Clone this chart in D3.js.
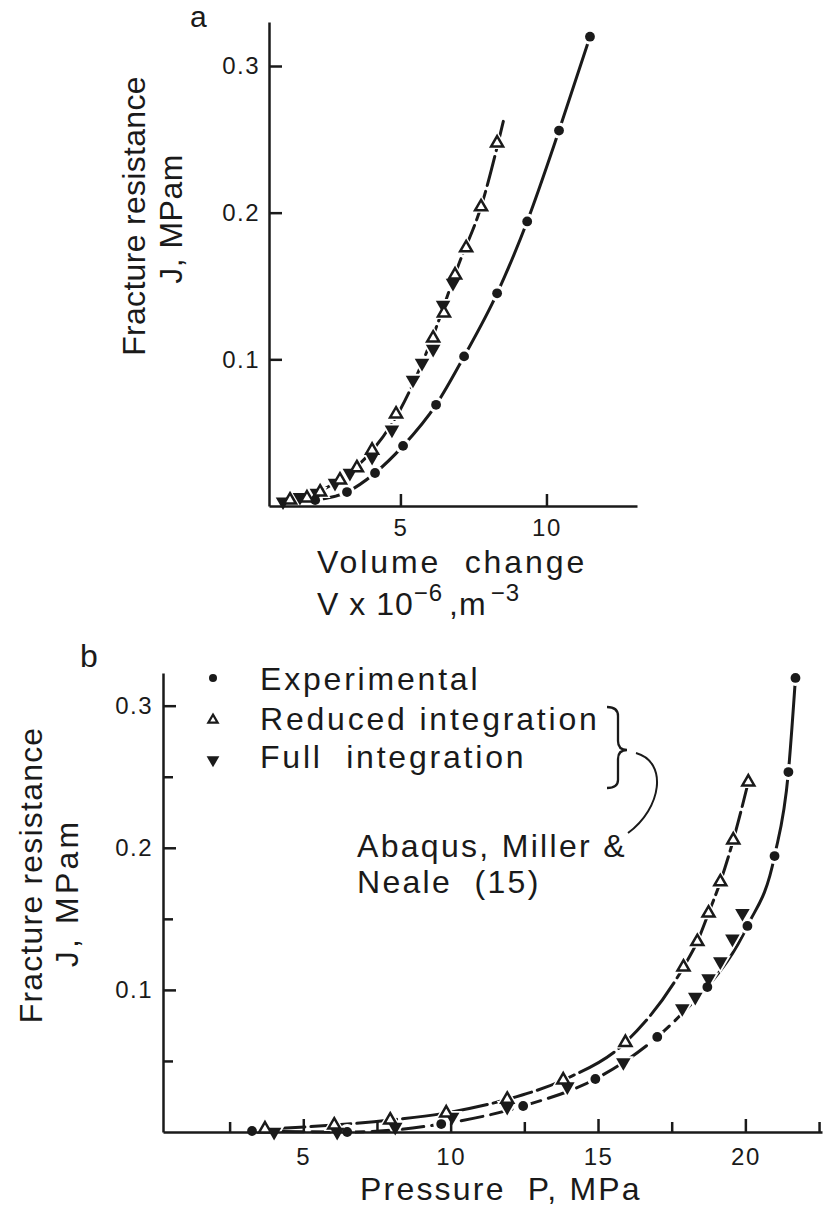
<!DOCTYPE html>
<html lang="en">
<head>
<meta charset="UTF-8">
<title>Fracture resistance J</title>
<script src="https://d3js.org/d3.v7.min.js"></script>
<style>
  body { margin: 0; background: #fff; }
  svg text { font-family: "Liberation Sans", Arial, sans-serif; fill: #1a1a1a; }
</style>
</head>
<body>
<script>
// ---- panel a: J against volume change V (x 10^-6 m^3)
const expV   = [2.08, 3.17, 4.13, 5.09, 6.22, 7.18, 8.31, 9.34, 10.43, 11.49];
const expJa  = [0.004, 0.0095, 0.0225, 0.041, 0.069, 0.102, 0.145, 0.194, 0.256, 0.320];
const redV   = [1.22, 1.80, 2.25, 2.93, 3.51, 4.03, 4.85, 6.12, 6.49, 6.87, 7.25, 7.76, 8.31];
const redJa  = [0.004, 0.0055, 0.0095, 0.0177, 0.026, 0.038, 0.0627, 0.1145, 0.1316, 0.1575, 0.176, 0.204, 0.2475];
const fullV  = [0.98, 1.56, 2.14, 2.76, 3.27, 4.03, 4.71, 5.43, 5.74, 6.12, 6.46, 6.80];
const fullJa = [0.003, 0.006, 0.0089, 0.0157, 0.0225, 0.0334, 0.052, 0.086, 0.0975, 0.107, 0.137, 0.152];
// hand-drawn curve through both simulations in panel a
const fitV   = [0.98, 2.0, 3.0, 4.0, 5.0, 6.0, 7.0, 7.76, 8.55];
const fitJa  = [0.002, 0.008, 0.019, 0.037, 0.066, 0.11, 0.165, 0.204, 0.2645];

// ---- panel b: J against pressure P (MPa)
const expP   = [3.26, 6.49, 9.68, 12.46, 14.91, 17.01, 18.71, 20.07, 20.99, 21.46, 21.70];
const expJb  = [0.0007, 0.0, 0.0056, 0.0183, 0.0373, 0.0669, 0.102, 0.145, 0.1942, 0.2533, 0.3195];
const redP   = [3.70, 6.05, 7.95, 9.85, 11.92, 13.82, 15.93, 17.90, 18.37, 18.75, 19.15, 19.59, 20.10];
const redJb  = [0.0021, 0.0049, 0.0084, 0.0134, 0.023, 0.0366, 0.063, 0.116, 0.134, 0.154, 0.176, 0.2055, 0.2463];
const fullP  = [4.01, 6.15, 8.12, 10.05, 11.92, 13.96, 15.86, 17.86, 18.30, 18.75, 19.15, 19.56, 19.90];
const fullJb = [0.0, 0.0, 0.0035, 0.0106, 0.0176, 0.032, 0.049, 0.087, 0.095, 0.108, 0.12, 0.136, 0.154];
const solidFrom = 18.7; // experimental curve in b is solid above this pressure

// ---- ticks
const yTicksA = [0.1, 0.2, 0.3];
const xTicksA = [5, 10];
const yTicksB = [0.05, 0.1, 0.15, 0.2, 0.25, 0.3];
const yLabelsB = [0.1, 0.2, 0.3];
const xTicksB = [2.5, 5, 7.5, 10, 12.5, 15, 17.5, 20, 22.5];
const xLabelsB = [5, 10, 15, 20];

const legendItems = ["Experimental", "Reduced integration", "Full  integration"];

const ink = "#1a1a1a";
const svg = d3.select("body").append("svg").attr("width", 826).attr("height", 1214);

const xa = d3.scaleLinear().domain([0.5, 13.1]).range([269, 637]);
const ya = d3.scaleLinear().domain([0, 0.33]).range([506, 22]);
const xb = d3.scaleLinear().domain([0.24, 22.6]).range([163, 822]);
const yb = d3.scaleLinear().domain([0, 0.323]).range([1132, 673]);

const zip = (xs, ys) => xs.map((v, i) => [v, ys[i]]);

function curve(x, y, data, dash) {
  const line = d3.line().x(d => x(d[0])).y(d => y(d[1])).curve(d3.curveMonotoneX);
  svg.append("path").attr("d", line(data))
    .attr("fill", "none").attr("stroke", ink).attr("stroke-width", 3)
    .attr("stroke-linecap", "round")
    .attr("stroke-dasharray", dash || null);
}

const upTri = d3.symbol(d3.symbolTriangle, 62)();
const downTri = d3.symbol(d3.symbolTriangle, 92)();
const haloTri = d3.symbol(d3.symbolTriangle, 190)();

function halos(x, y, data, kind) {
  svg.append("g").selectAll("path").data(data).join("path")
    .attr("d", kind === "dot" ? d3.symbol(d3.symbolCircle, 200)() : haloTri)
    .attr("transform", d => `translate(${x(d[0])},${y(d[1])})${kind === "down" ? " rotate(180)" : ""}`)
    .attr("fill", "#fff");
}

function markers(x, y, data, kind) {
  const g = svg.append("g");
  if (kind === "dot") {
    g.selectAll("circle").data(data).join("circle")
      .attr("cx", d => x(d[0])).attr("cy", d => y(d[1])).attr("r", 4.9).attr("fill", ink);
  } else if (kind === "up") {
    g.selectAll("path").data(data).join("path")
      .attr("d", upTri)
      .attr("transform", d => `translate(${x(d[0])},${y(d[1])})`)
      .attr("fill", "#fff").attr("stroke", ink).attr("stroke-width", 2.5);
  } else {
    g.selectAll("path").data(data).join("path")
      .attr("d", downTri)
      .attr("transform", d => `translate(${x(d[0])},${y(d[1])}) rotate(180)`)
      .attr("fill", ink);
  }
}

function styleAxis(g, size) {
  g.attr("font-family", null).attr("font-size", null);
  g.selectAll("path, line").attr("stroke", ink).attr("stroke-width", 2.5);
  g.selectAll("text").style("font-size", size + "px").style("letter-spacing", "1.5px").attr("fill", ink);
}

// ================= panel a
const dataExpA = zip(expV, expJa), dataRedA = zip(redV, redJa), dataFullA = zip(fullV, fullJa);
curve(xa, ya, dataExpA);
curve(xa, ya, zip(fitV, fitJa), "30,6");
halos(xa, ya, dataExpA, "dot");
halos(xa, ya, dataRedA, "up");
halos(xa, ya, dataFullA, "down");

svg.append("g").attr("transform", "translate(269,0)")
  .call(d3.axisLeft(ya).tickValues(yTicksA).tickFormat(d3.format(".1f"))
    .tickSizeInner(-13).tickSizeOuter(0).tickPadding(9))
  .call(g => styleAxis(g, 24));
svg.append("g").attr("transform", "translate(0,506)")
  .call(d3.axisBottom(xa).tickValues(xTicksA).tickFormat(d3.format("d"))
    .tickSizeInner(-12).tickSizeOuter(0).tickPadding(13))
  .call(g => styleAxis(g, 24));

markers(xa, ya, dataExpA, "dot");
markers(xa, ya, dataFullA, "down");
markers(xa, ya, dataRedA, "up");

svg.append("text").attr("x", 190).attr("y", 27).style("font-size", "30px").text("a");

function yTitle(bx, cy, bx2, cy2, ls1, ls2) {
  svg.append("text").attr("transform", `translate(${bx},${cy}) rotate(-90)`)
    .attr("text-anchor", "middle").style("font-size", "32px").style("letter-spacing", ls1 + "px")
    .text("Fracture resistance");
  svg.append("text").attr("transform", `translate(${bx2},${cy2}) rotate(-90)`)
    .attr("text-anchor", "middle").style("font-size", "32px").style("letter-spacing", ls2 + "px")
    .text("J,  MPam");
}
yTitle(145, 216, 182, 219, 0.3, 0.5);

svg.append("text").attr("x", 317).attr("y", 573).style("font-size", "32px")
  .style("letter-spacing", "2.9px").style("white-space", "pre").text("Volume  change");

const vl = svg.append("text").attr("x", 317).attr("y", 615).style("font-size", "32px")
  .style("letter-spacing", "1px").style("white-space", "pre");
vl.append("tspan").text("V x 10");
vl.append("tspan").attr("dy", -14).style("font-size", "24px").text("−6");
vl.append("tspan").attr("dy", 14).attr("dx", 6).text(",m");
vl.append("tspan").attr("dy", -14).attr("dx", 4).style("font-size", "24px").text("−3");

// ================= panel b
const dataExpB = zip(expP, expJb), dataRedB = zip(redP, redJb), dataFullB = zip(fullP, fullJb);
curve(xb, yb, dataExpB.filter(d => d[0] >= solidFrom));
curve(xb, yb, dataExpB.filter(d => d[0] <= solidFrom + 0.01), "22,8");
curve(xb, yb, dataRedB, "40,6");
halos(xb, yb, dataExpB, "dot");
halos(xb, yb, dataRedB, "up");
halos(xb, yb, dataFullB, "down");

svg.append("g").attr("transform", "translate(163,0)")
  .call(d3.axisLeft(yb).tickValues(yTicksB)
    .tickFormat(d => yLabelsB.includes(d) ? d3.format(".1f")(d) : "")
    .tickSizeInner(-13).tickSizeOuter(0).tickPadding(10))
  .call(g => styleAxis(g, 24))
  .call(g => g.selectAll(".tick line").attr("x2", d => yLabelsB.includes(d) ? 13 : 10));
svg.append("g").attr("transform", "translate(0,1132)")
  .call(d3.axisBottom(xb).tickValues(xTicksB)
    .tickFormat(d => xLabelsB.includes(d) ? d3.format("d")(d) : "")
    .tickSizeInner(-13).tickSizeOuter(0).tickPadding(16))
  .call(g => styleAxis(g, 24))
  .call(g => g.selectAll(".tick line").attr("y2", d => xLabelsB.includes(d) ? -13 : -10));

markers(xb, yb, dataExpB, "dot");
markers(xb, yb, dataFullB, "down");
markers(xb, yb, dataRedB, "up");

svg.append("text").attr("x", 80).attr("y", 667).style("font-size", "32px").text("b");
yTitle(42, 875, 78, 893, 1.2, 3.2);

svg.append("text").attr("x", 360).attr("y", 1200).style("font-size", "32px")
  .style("letter-spacing", "2.2px").style("white-space", "pre").text("Pressure  P, MPa");

// legend
const legend = svg.append("g");
const legY = [690, 730, 768];
legendItems.forEach((t, i) => {
  legend.append("text").attr("x", 260).attr("y", legY[i]).style("font-size", "32px")
    .style("letter-spacing", "2.8px").style("white-space", "pre").text(t);
});
legend.append("circle").attr("cx", 213).attr("cy", 678).attr("r", 4).attr("fill", ink);
legend.append("path").attr("d", d3.symbol(d3.symbolTriangle, 38)())
  .attr("transform", "translate(213,720)").attr("fill", "#fff").attr("stroke", ink).attr("stroke-width", 2.2);
legend.append("path").attr("d", d3.symbol(d3.symbolTriangle, 70)())
  .attr("transform", "translate(213,760) rotate(180)").attr("fill", ink);

// brace and leader to the reference note
const brace = d3.path();
brace.moveTo(607, 707);
brace.quadraticCurveTo(618, 707, 618, 716);
brace.lineTo(618, 741);
brace.quadraticCurveTo(618, 750, 627, 750);
brace.quadraticCurveTo(618, 750, 618, 759);
brace.lineTo(618, 780);
brace.quadraticCurveTo(618, 788, 607, 788);
svg.append("path").attr("d", brace.toString()).attr("fill", "none").attr("stroke", ink).attr("stroke-width", 2.3);

const leader = d3.path();
leader.moveTo(636, 753);
leader.bezierCurveTo(668, 762, 662, 808, 628, 833);
svg.append("path").attr("d", leader.toString()).attr("fill", "none").attr("stroke", ink).attr("stroke-width", 2);

svg.append("text").attr("x", 357).attr("y", 857).style("font-size", "32px")
  .style("letter-spacing", "2.3px").style("white-space", "pre").text("Abaqus, Miller &");
svg.append("text").attr("x", 357).attr("y", 893).style("font-size", "32px")
  .style("letter-spacing", "2.3px").style("white-space", "pre").text("Neale  (15)");
</script>
</body>
</html>
